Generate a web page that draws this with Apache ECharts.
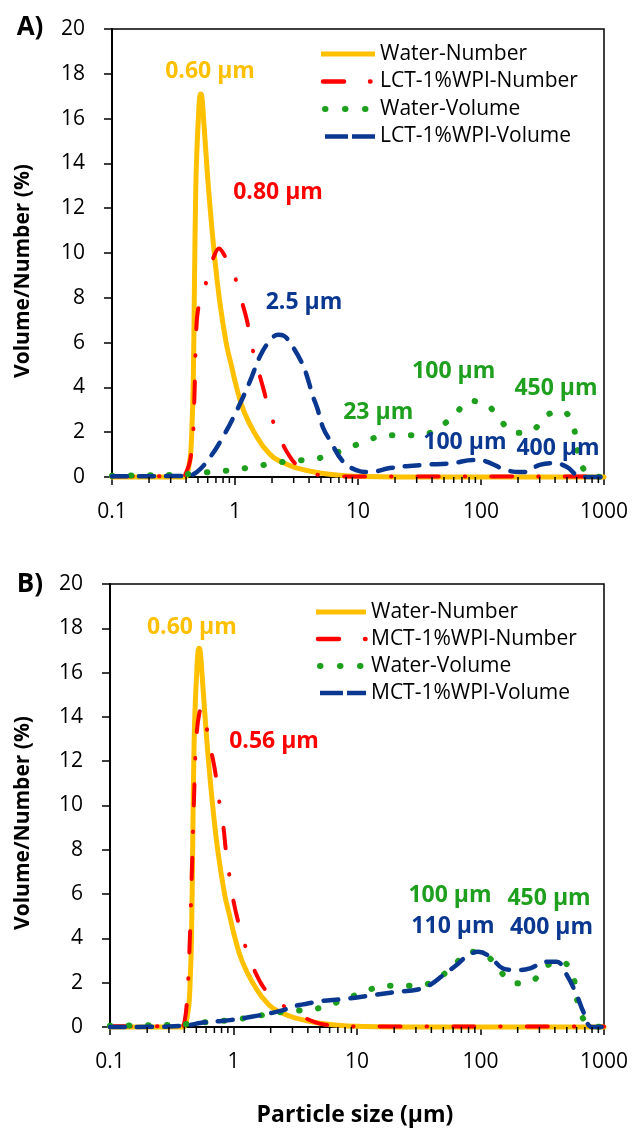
<!DOCTYPE html>
<html>
<head>
<meta charset="utf-8">
<script src="https://cdn.jsdelivr.net/npm/echarts@6/dist/echarts.min.js"></script>
<style>
  html, body { margin: 0; padding: 0; background: #fff; }
  #chart { width: 633px; height: 1129px; }
</style>
</head>
<body>
<div id="chart"></div>
<script>
// 数据 (x: particle size um, y: %)
var waterNumber = [[0.1,0],[0.2,0],[0.3,0],[0.39,0],[0.41,0.2],[0.425,0.6],[0.437,1.1],[0.447,2.3],[0.457,4.0],[0.468,8.5],[0.48,12.9],[0.492,14.8],[0.505,16.1],[0.515,16.9],[0.525,17.1],[0.537,17.0],[0.555,16.0],[0.58,14.5],[0.603,13.2],[0.628,12],[0.678,10],[0.745,8],[0.847,6],[0.933,5],[1.03,4],[1.17,3],[1.43,2],[1.93,1],[2.5,0.62],[3.2,0.4],[4.9,0.18],[7,0.08],[10,0.03],[20,0],[100,0],[1000,0]];
var lctNumber = [[0.1,0.03],[0.38,0.03],[0.40,0.2],[0.43,0.7],[0.455,1.8],[0.47,4.0],[0.482,6.25],[0.5,7.45],[0.55,8.2],[0.626,9.3],[0.68,9.9],[0.74,10.2],[0.82,9.9],[0.96,9.2],[1.14,7.8],[1.25,7.0],[1.35,6.0],[1.54,4.8],[1.69,4.0],[1.93,2.86],[2.32,1.74],[2.8,0.9],[3.3,0.45],[3.9,0.22],[5,0.08],[7,0.03],[10,0.02],[1000,0.02]];
var mctNumber = [[0.1,0.03],[0.38,0.03],[0.40,0.2],[0.42,1.2],[0.44,3.5],[0.46,7],[0.48,10.5],[0.50,13],[0.53,14.2],[0.56,14.4],[0.6,13.7],[0.625,13.0],[0.686,12.0],[0.73,11.1],[0.78,9.9],[0.83,9.0],[0.87,7.9],[0.935,6.7],[0.99,5.8],[1.11,4.6],[1.28,3.45],[1.45,2.65],[1.86,1.6],[2.7,0.85],[3.66,0.45],[5,0.15],[7,0.05],[10,0.02],[1000,0.02]];
var waterVolume = [[0.1,0.06],[0.2,0.08],[0.35,0.1],[0.5,0.18],[0.72,0.25],[1.02,0.33],[1.46,0.47],[2.1,0.62],[3.0,0.73],[4.25,0.78],[6.0,1.0],[8.5,1.31],[11.9,1.63],[16.9,1.86],[24,1.86],[34.5,1.9],[47.5,2.28],[62,2.82],[81,3.4],[114,3.18],[144,2.52],[191,1.97],[265,2.1],[340,2.75],[460,2.93],[565,2.2],[595,1.45],[657,0.52],[790,0.06],[1000,0]];
var lctVolume = [[0.1,0.03],[0.4,0.05],[0.49,0.22],[0.63,0.9],[0.8,1.8],[1.04,3.0],[1.33,4.3],[1.6,5.4],[1.93,6.1],[2.24,6.35],[2.5,6.3],[2.8,6.0],[3.5,5.1],[3.85,4.5],[4.3,3.6],[4.65,3.1],[5.2,2.2],[5.9,1.65],[7.6,0.67],[9.8,0.3],[12.5,0.22],[18.2,0.4],[33.6,0.54],[59,0.62],[86,0.76],[100,0.75],[119,0.62],[162,0.3],[220,0.22],[300,0.54],[385,0.62],[500,0.45],[600,0.09],[750,0],[1000,0]];
var mctVolume = [[0.1,0],[0.3,0.02],[0.45,0.1],[0.535,0.18],[0.69,0.24],[0.935,0.31],[1.36,0.45],[1.98,0.62],[2.53,0.76],[3.0,0.92],[3.67,1.02],[5.0,1.16],[7.75,1.26],[13.5,1.44],[22.3,1.6],[30.4,1.68],[39,1.9],[50,2.35],[64,2.8],[77,3.18],[96,3.4],[119,3.18],[153,2.64],[196,2.57],[252,2.65],[344,2.95],[414,2.95],[499,2.35],[601,1.45],[679,0.7],[795,0],[1000,0]];

// 刻度
var yTicks = [0, 2, 4, 6, 8, 10, 12, 14, 16, 18, 20];
var xMinorTicks = [0.2,0.3,0.4,0.5,0.6,0.7,0.8,0.9,2,3,4,5,6,7,8,9,20,30,40,50,60,70,80,90,200,300,400,500,600,700,800,900];

// 图例
var namesA = ['Water-Number', 'LCT-1%WPI-Number', 'Water-Volume', 'LCT-1%WPI-Volume'];
var namesB = ['Water-Number', 'MCT-1%WPI-Number', 'Water-Volume', 'MCT-1%WPI-Volume'];

// 峰值标注 [text, x, y]
var peaksA = [['0.60 μm', 0.627, 18.1], ['0.80 μm', 2.24, 12.7], ['2.5 μm', 3.64, 7.77], ['23 μm', 14.6, 2.9], ['100 μm', 60, 4.69], ['450 μm', 407, 3.97], ['100 μm', 74, 1.52], ['400 μm', 423, 1.29]];
var peaksB = [['0.60 μm', 0.46, 18.04], ['0.56 μm', 2.13, 12.87], ['100 μm', 56.6, 5.96], ['450 μm', 359, 5.82], ['110 μm', 59.8, 4.56], ['400 μm', 376, 4.51]];

var YELLOW = '#FFC000', RED = '#FF0000', GREEN = '#1EA01E', BLUE = '#0A3790';
var peakColorsA = [YELLOW, RED, BLUE, GREEN, GREEN, GREEN, BLUE, BLUE];
var peakColorsB = [YELLOW, RED, GREEN, GREEN, BLUE, BLUE];

var FONT = '"Open Sans", "Noto Sans", sans-serif';

var styles = [
	{ color: YELLOW, width: 5, type: 'solid', cap: 'round', smooth: 0.5 },
	{ color: RED, width: 4, type: [21, 26, 0.5, 26], cap: 'round', smooth: 0.4 },
	{ color: GREEN, width: 6, type: [0.5, 18.5], cap: 'round', smooth: 0.4 },
	{ color: BLUE, width: 4.5, type: [15, 12], cap: 'round', smooth: 0.4 }
];

// 图例里的线型
var legendLines = [
	{ width: 5, type: 'solid', cap: 'butt' },
	{ width: 4.5, type: [21, 26, 0.5, 26], cap: 'round', dashOffset: -2 },
	{ width: 6, type: [0.5, 19.5], cap: 'round', dashOffset: -4 },
	{ width: 4.5, type: [23, 4], cap: 'butt' }
];

function lineSeries(name, data, st, idx) {
	return {
		name: name,
		type: 'line',
		xAxisIndex: idx,
		yAxisIndex: idx,
		data: data,
		symbol: 'none',
		smooth: st.smooth,
		clip: false,
		color: st.color,
		lineStyle: { color: st.color, width: st.width, type: st.type, cap: st.cap, join: 'round' }
	};
}

function peakMarks(peaks, colors) {
	return {
		symbol: 'circle',
		symbolSize: 0,
		silent: true,
		data: peaks.map(function (p, i) {
			return {
				coord: [p[1], p[2]],
				label: {
					show: true, position: 'inside', formatter: p[0],
					color: colors[i], fontFamily: FONT, fontWeight: 'bold', fontSize: 23
				}
			};
		})
	};
}

function minorTickSeries(idx) {
	return {
		type: 'custom',
		xAxisIndex: idx,
		yAxisIndex: idx,
		silent: true,
		clip: false,
		z: 10,
		data: xMinorTicks.map(function (v) { return [v, 0]; }),
		encode: { x: 0, y: 1 },
		renderItem: function (params, api) {
			var p = api.coord([api.value(0), 0]);
			return {
				type: 'line',
				shape: { x1: p[0], y1: p[1], x2: p[0], y2: p[1] + 6 },
				style: { stroke: '#000', lineWidth: 1.5 }
			};
		}
	};
}

function xAxis(idx) {
	return {
		type: 'log', logBase: 10, gridIndex: idx, min: 0.1, max: 1000,
		axisLine: { lineStyle: { color: '#000', width: 2 } },
		axisTick: { length: 8, lineStyle: { color: '#000', width: 1.5 } },
		splitLine: { show: false },
		axisLabel: {
			color: '#000', fontFamily: FONT, fontSize: 21, margin: 25,
			formatter: function (v) { return String(parseFloat(Number(v).toPrecision(6))); }
		}
	};
}

function yAxis(idx) {
	return {
		type: 'value', gridIndex: idx, min: yTicks[0], max: yTicks[yTicks.length - 1], interval: yTicks[1] - yTicks[0],
		axisLine: { show: true, lineStyle: { color: '#000', width: 2 } },
		axisTick: { show: true, length: 8, lineStyle: { color: '#000', width: 1.5 } },
		splitLine: { show: false },
		axisLabel: { color: '#000', fontFamily: FONT, fontSize: 21, margin: 27 }
	};
}

function legend(names, left, top, width, gap) {
	return {
		orient: 'vertical', left: left, top: top, padding: 0,
		itemWidth: width, itemHeight: 14, itemGap: gap,
		selectedMode: false,
		itemStyle: { color: 'transparent', borderWidth: 0, opacity: 0 },
		data: names.map(function (n, i) {
			return { name: n, lineStyle: legendLines[i], itemStyle: { color: 'transparent', borderWidth: 0, opacity: 0 } };
		}),
		textStyle: { color: '#000', fontFamily: FONT, fontSize: 21, lineHeight: 22 }
	};
}

var seriesList = [];
[waterNumber, lctNumber, waterVolume, lctVolume].forEach(function (d, i) {
	seriesList.push(lineSeries(namesA[i], d, styles[i], 0));
});
[waterNumber, mctNumber, waterVolume, mctVolume].forEach(function (d, i) {
	seriesList.push(lineSeries(namesB[i], d, styles[i], 1));
});
seriesList[3].markPoint = peakMarks(peaksA, peakColorsA);
seriesList[7].markPoint = peakMarks(peaksB, peakColorsB);
seriesList.push(minorTickSeries(0));
seriesList.push(minorTickSeries(1));

var myChart = echarts.init(document.getElementById('chart'));
var option = {
	animation: false,
	backgroundColor: '#fff',
	grid: [
		{ left: 112, top: 29, width: 492, height: 448, show: true, borderColor: '#000', borderWidth: 1.5, backgroundColor: 'transparent' },
		{ left: 110, top: 584, width: 494, height: 443, show: true, borderColor: '#000', borderWidth: 1.5, backgroundColor: 'transparent' }
	],
	xAxis: [xAxis(0), xAxis(1)],
	yAxis: [yAxis(0), yAxis(1)],
	legend: [legend(namesA, 318, 43, 54, 5.5), legend(namesB, 313, 601, 50, 5)],
	graphic: [
		{ type: 'text', x: 30, y: 28, style: { text: 'A)', font: 'bold 26px ' + FONT, fill: '#000', align: 'center', verticalAlign: 'middle' } },
		{ type: 'text', x: 30, y: 585, style: { text: 'B)', font: 'bold 26px ' + FONT, fill: '#000', align: 'center', verticalAlign: 'middle' } },
		{ type: 'text', x: 23, y: 271, rotation: Math.PI / 2, style: { text: 'Volume/Number (%)', font: 'bold 21px ' + FONT, fill: '#000', align: 'center', verticalAlign: 'middle' } },
		{ type: 'text', x: 23, y: 823, rotation: Math.PI / 2, style: { text: 'Volume/Number (%)', font: 'bold 21px ' + FONT, fill: '#000', align: 'center', verticalAlign: 'middle' } },
		{ type: 'text', x: 355, y: 1115, style: { text: 'Particle size (μm)', font: 'bold 23px ' + FONT, fill: '#000', align: 'center', verticalAlign: 'middle' } }
	],
	series: seriesList
};
myChart.setOption(option);
</script>
</body>
</html>
